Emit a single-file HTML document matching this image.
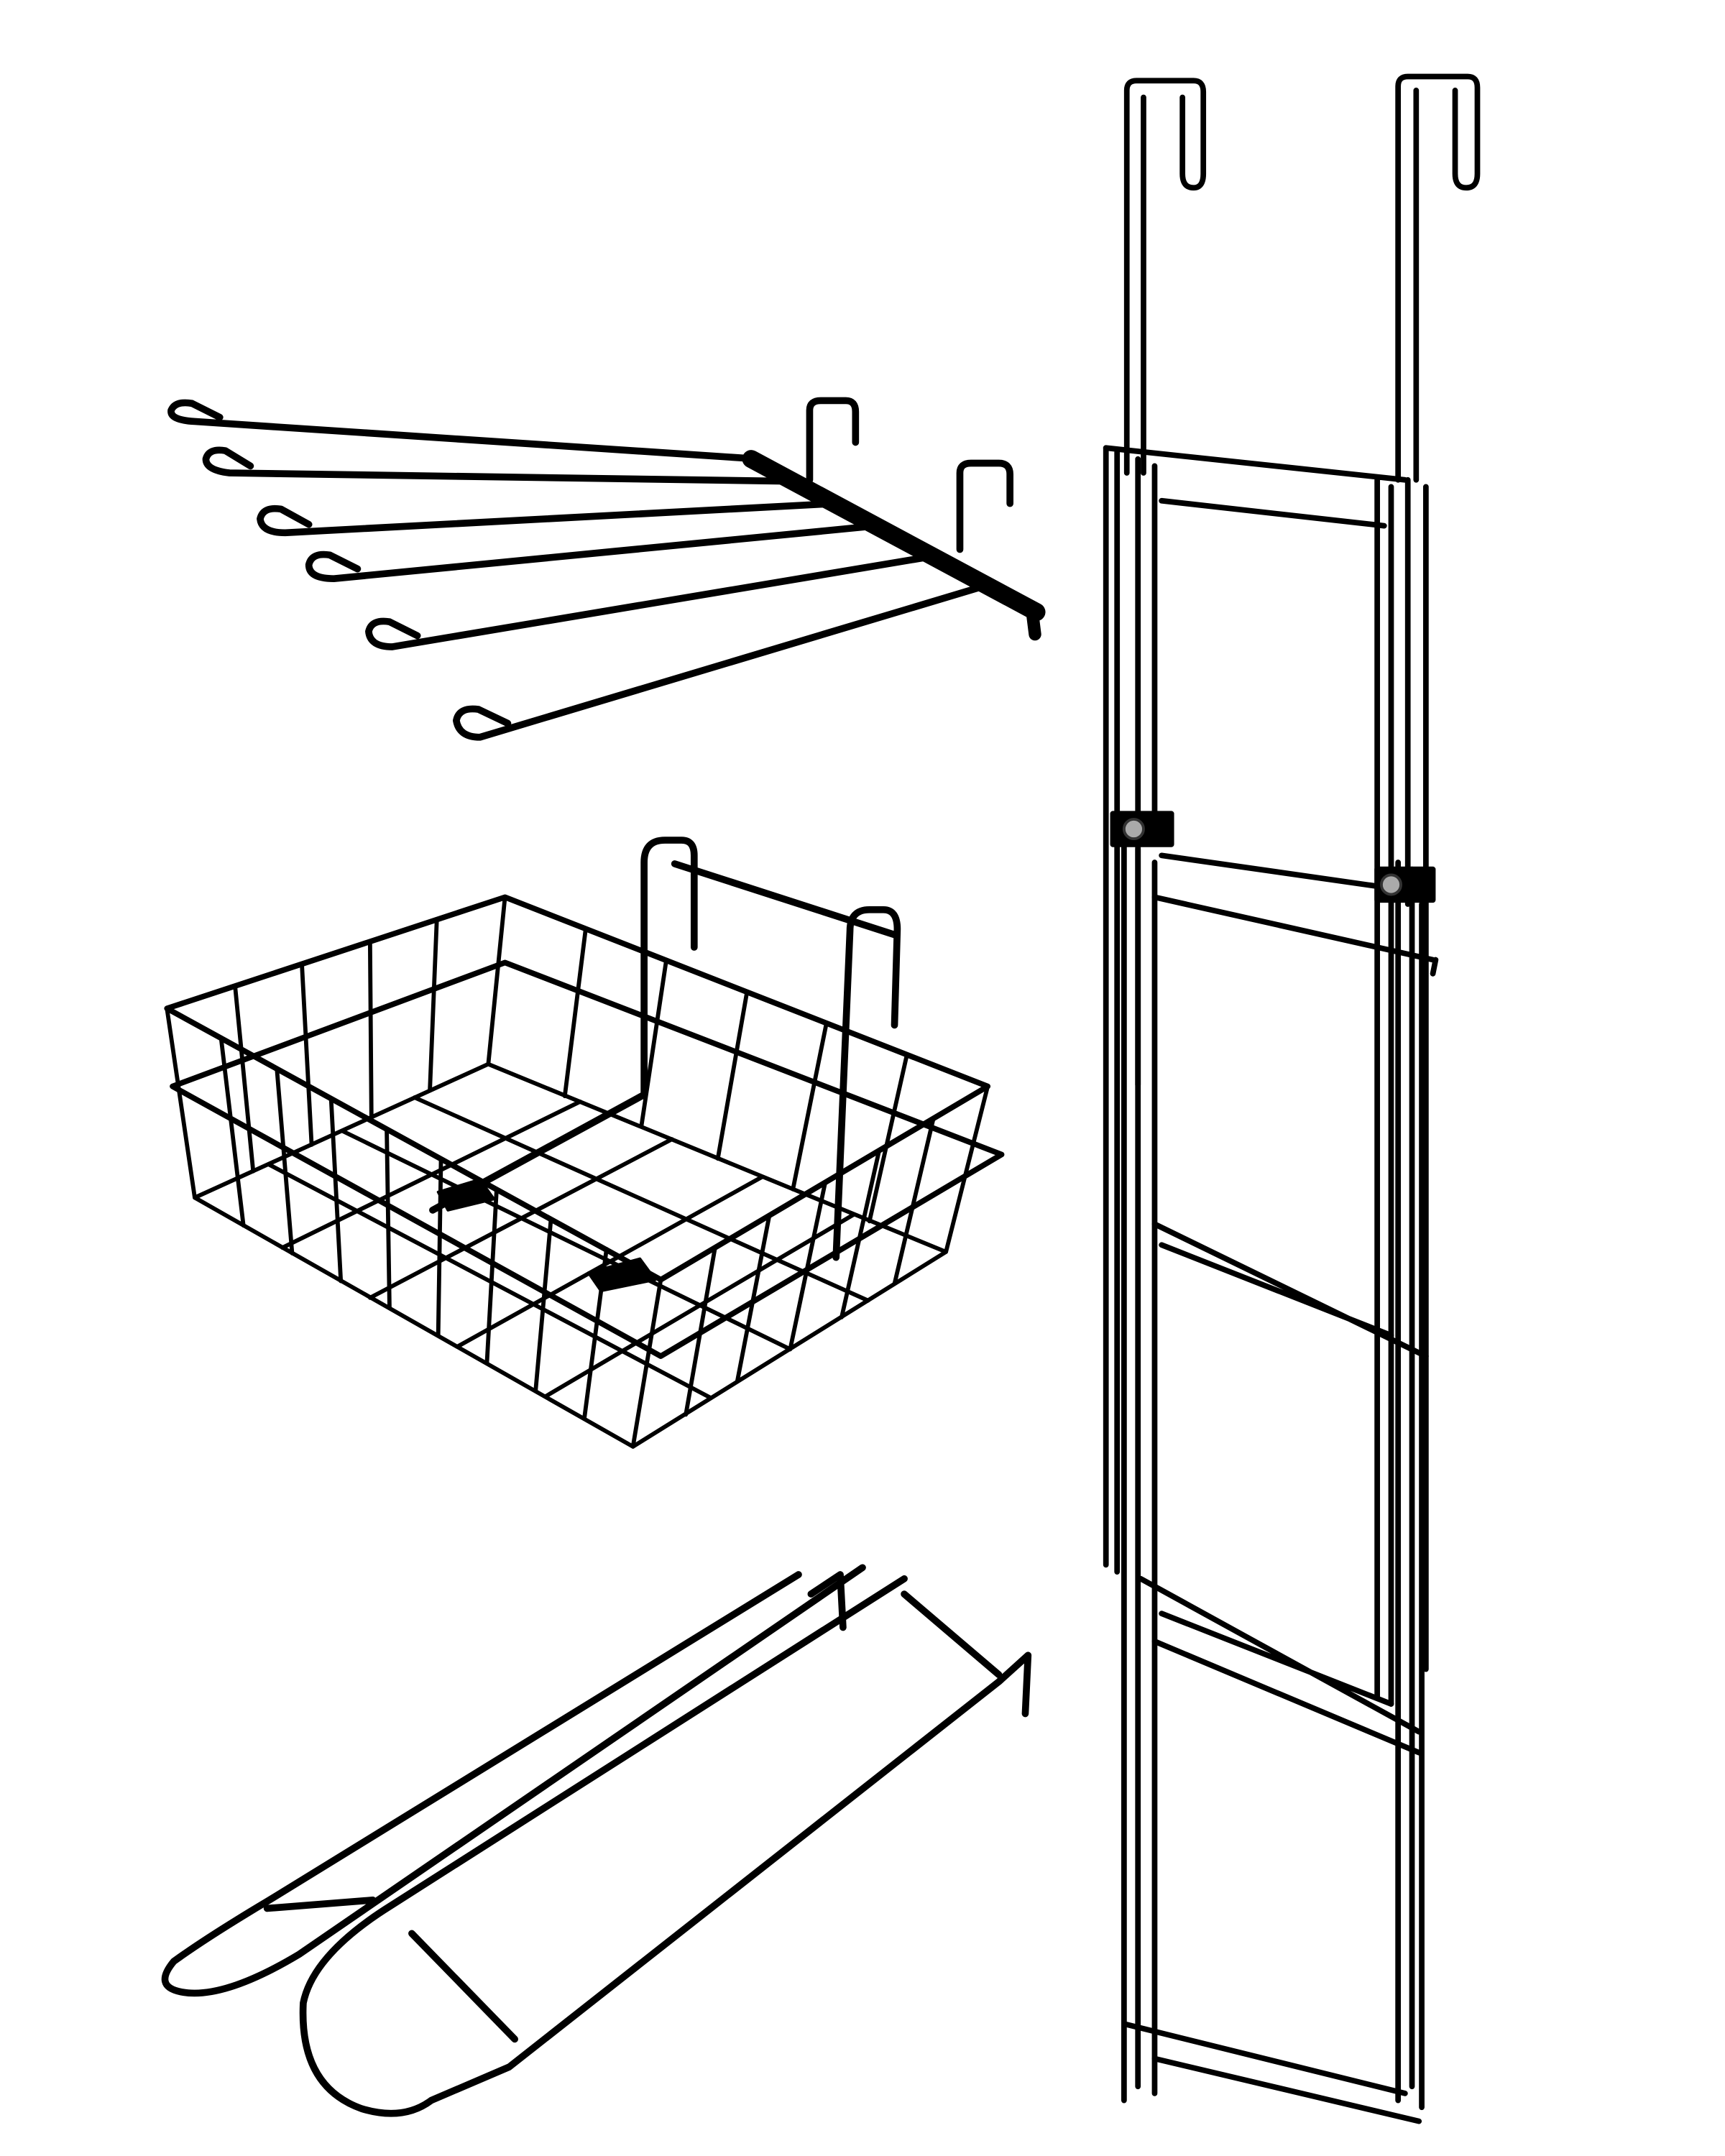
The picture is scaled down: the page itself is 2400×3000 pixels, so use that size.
<!DOCTYPE html>
<html><head><meta charset="utf-8"><style>
html,body{margin:0;padding:0;background:#fff;}
svg{display:block;}
</style></head><body>
<svg width="2400" height="3000" viewBox="0 0 1240 1550" xmlns="http://www.w3.org/2000/svg" fill="none" stroke="#000" stroke-width="4" stroke-linecap="round" stroke-linejoin="round">
<rect x="0" y="0" width="1240" height="1550" fill="#fff" stroke="none"/>

<!-- Towel arm rack -->
<g stroke-width="5">
  <path d="M540 330 L745 440" stroke-width="13"/>
  <path d="M582 345 L582 295 Q582 288 590 288 L608 288 Q615 288 615 296 L615 318"/>
  <path d="M690 395 L690 340 Q690 333 698 333 L718 333 Q726 333 726 341 L726 362"/>
  <path d="M742 440 L744 456" stroke-width="9"/>
  <path d="M545 330 L140 303 Q122 302 123 295 Q126 288 138 290 L158 300"/>
  <path d="M568 346 L165 340 Q148 338 148 330 Q150 322 162 324 L180 335"/>
  <path d="M600 362 L205 383 Q188 383 187 373 Q189 364 202 366 L222 377"/>
  <path d="M630 378 L240 416 Q222 416 222 406 Q224 397 237 399 L257 409"/>
  <path d="M670 400 L282 465 Q266 465 265 454 Q267 445 280 447 L300 457"/>
  <path d="M712 420 L345 530 Q330 530 328 518 Q330 508 344 510 L365 520"/>
</g>

<!-- Basket -->
<g stroke-width="3">
  <path d="M120 725 L363 645 L710 781 L475 920 Z" stroke-width="4"/>
  <path d="M124 781 L363 692 L720 830 L475 975 Z" stroke-width="4"/>
  <path d="M140 861 L351 765 L680 900 L455 1040 Z"/>
  <path d="M120 725 L140 861 M475 920 L455 1040 M710 781 L680 900 M363 645 L351 765"/>
  <!-- front verticals -->
  <path d="M159 747 L175 881 M199 768 L210 901 M238 790 L245 921 M278 812 L280 940 M317 833 L315 960 M357 855 L350 980 M396 877 L385 1000 M436 898 L420 1020"/>
  <!-- right verticals -->
  <path d="M514 897 L493 1017 M553 874 L530 993 M593 851 L568 970 M632 827 L605 947 M671 804 L643 923"/>
  <!-- back-left verticals -->
  <path d="M169 709 L182 842 M217 693 L224 823 M266 677 L267 803 M314 661 L309 784"/>
  <!-- back-right verticals -->
  <path d="M421 668 L406 788 M479 690 L461 810 M537 713 L516 833 M594 736 L570 855 M652 758 L625 878"/>
  <!-- floor grid -->
  <path d="M203 897 L417 792 M266 933 L483 819 M329 968 L548 846 M392 1004 L614 873"/>
  <path d="M193 837 L511 1005 M246 813 L568 970 M298 789 L624 935"/>
  <!-- handle -->
  <path d="M311 870 L463 787 L463 620 Q463 604 478 604 L490 604 Q499 604 499 615 L499 681" stroke-width="5"/>
  <path d="M485 621 L643 672" stroke-width="5"/>
  <path d="M601 904 L611 669 Q611 654 625 654 L635 654 Q645 654 645 668 L643 737" stroke-width="5"/>
  <path d="M315 857 L345 848 L355 862 L322 870 Z" fill="#000" stroke-width="2"/>
  <path d="M423 915 L460 905 L471 920 L432 928 Z" fill="#000" stroke-width="2"/>
</g>

<!-- Paper towel holder -->
<g stroke-width="5">
  <path d="M574 1132 L192 1367 Q150 1392 125 1410 Q110 1428 130 1432 Q160 1438 215 1405 L620 1127"/>
  <path d="M650 1135 L281 1370 Q225 1405 218 1440 Q215 1500 260 1516 Q290 1525 310 1510 L366 1486 L718 1209 L739 1190 L737 1232"/>
  <path d="M296 1390 L370 1466"/>
  <path d="M650 1146 L718 1204"/>
  <path d="M192 1372 L268 1366"/>
  <path d="M583 1146 L604 1132 L606 1170"/>
</g>

<!-- Door rack -->
<g stroke-width="4">
  <path d="M810 340 L810 65 Q810 58 817 58 L858 58 Q865 58 865 66 L865 125 Q865 135 858 135 Q850 135 850 125 L850 70"/>
  <path d="M822 340 L822 70"/>
  <path d="M1005 345 L1005 62 Q1005 55 1012 55 L1055 55 Q1062 55 1062 63 L1062 125 Q1062 135 1054 135 Q1046 135 1046 125 L1046 65"/>
  <path d="M1018 345 L1018 65"/>
  <path d="M795 322 L795 1125 M803 325 L803 1130 M818 330 L818 780 M830 335 L830 600"/>
  <path d="M795 322 L1010 345 M835 360 L995 378 M990 345 L990 1220 M1000 350 L1000 1225 M1012 345 L1012 650 M1025 350 L1025 1200"/>
  <path d="M808 600 L808 1510 M818 610 L818 1500 M830 620 L830 1505"/>
  <path d="M835 615 L1010 640 M830 645 L1030 690 M1005 620 L1005 1510 M1015 625 L1015 1500 M1022 650 L1022 1515 M1032 690 L1030 700"/>
  <path d="M830 880 L1025 975 M835 895 L1000 960"/>
  <path d="M820 1135 L1020 1245 M835 1160 L1000 1225 M830 1180 L1020 1260"/>
  <path d="M808 1455 L1010 1505 M830 1480 L1020 1525"/>
  <rect x="800" y="585" width="42" height="22" fill="#000"/>
  <rect x="990" y="625" width="40" height="22" fill="#000"/>
  <circle cx="815" cy="596" r="7" fill="#aaa" stroke="#333" stroke-width="2"/>
  <circle cx="1000" cy="636" r="7" fill="#aaa" stroke="#333" stroke-width="2"/>
</g>
</svg>
</body></html>
